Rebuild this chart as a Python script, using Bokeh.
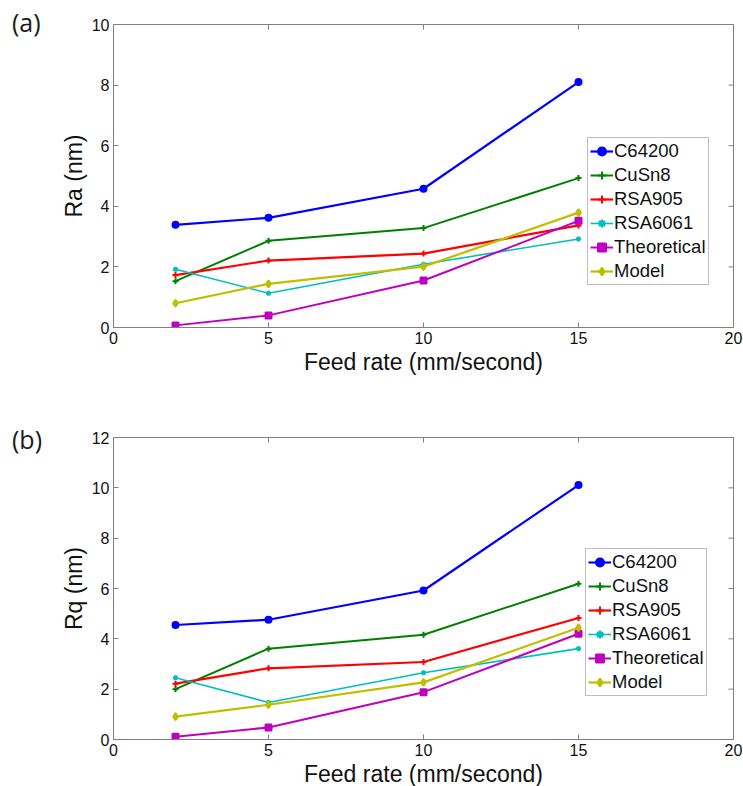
import math
from bokeh.plotting import figure
from bokeh.layouts import column
from bokeh.models import Range1d, FixedTicker, Legend, Div
from bokeh.embed import file_html
from bokeh.resources import INLINE

feed = [2, 5, 10, 15]
series_names = ["C64200", "CuSn8", "RSA905", "RSA6061", "Theoretical", "Model"]

ra_c64200 = [3.39, 3.62, 4.58, 8.10]
ra_cusn8 = [1.53, 2.86, 3.28, 4.93]
ra_rsa905 = [1.73, 2.21, 2.44, 3.37]
ra_rsa6061 = [1.92, 1.13, 2.09, 2.92]
ra_theor = [0.07, 0.40, 1.55, 3.52]
ra_model = [0.80, 1.44, 2.01, 3.79]

rq_c64200 = [4.55, 4.76, 5.92, 10.11]
rq_cusn8 = [2.00, 3.61, 4.16, 6.19]
rq_rsa905 = [2.22, 2.83, 3.08, 4.83]
rq_rsa6061 = [2.45, 1.47, 2.65, 3.61]
rq_theor = [0.11, 0.48, 1.88, 4.20]
rq_model = [0.91, 1.38, 2.27, 4.44]

x_ticks = [0, 5, 10, 15, 20]
ra_ticks = [0, 2, 4, 6, 8, 10]
rq_ticks = [0, 2, 4, 6, 8, 10, 12]

colors = ["#0000ff", "#008000", "#ff0000", "#00bfbf", "#bf00bf", "#bfbf00"]
markers = ["circle", "cross", "cross", "asterisk", "square", "diamond"]
msizes = [6, 6, 6, 5, 6, 7]
lwidths = [2.2, 2.0, 2.2, 1.6, 2.0, 2.2]

FONT = "Liberation Sans"
AXCOL = "#808080"


def style_axis(ax):
    ax.axis_line_color = AXCOL
    ax.major_tick_line_color = AXCOL
    ax.major_tick_in = 5
    ax.major_tick_out = 0
    ax.minor_tick_line_color = None
    ax.major_label_text_font = FONT
    ax.major_label_text_font_size = "16px"
    ax.major_label_text_color = "#111111"
    ax.major_label_standoff = 4
    ax.axis_label_text_font = FONT
    ax.axis_label_text_font_size = "23px"
    ax.axis_label_text_font_style = "normal"
    ax.axis_label_text_color = "#111111"
    ax.axis_label_standoff = 2


def make_panel(ys, ymax, yticks, ylabel, btop, bbot, fheight, leg_loc):
    p = figure(output_backend="svg", toolbar_location=None,
               frame_width=620, frame_height=fheight,
               min_border_left=113, min_border_right=10,
               min_border_top=btop, min_border_bottom=bbot,
               x_range=Range1d(0, 20), y_range=Range1d(0, ymax),
               background_fill_color="white", border_fill_color="white")
    p.outline_line_color = AXCOL
    p.grid.visible = False
    p.xaxis.ticker = FixedTicker(ticks=x_ticks)
    p.yaxis.ticker = FixedTicker(ticks=yticks)
    p.xaxis.axis_label = "Feed rate (mm/second)"
    p.yaxis.axis_label = ylabel
    style_axis(p.xaxis[0])
    style_axis(p.yaxis[0])

    # inward tick marks on the top and right edges of the box
    p.scatter(x_ticks, [ymax] * len(x_ticks), marker="dash", angle=math.pi / 2,
              size=10, line_color=AXCOL, line_width=1)
    p.scatter([20] * len(yticks), yticks, marker="dash",
              size=10, line_color=AXCOL, line_width=1)

    items = []
    for name, yv, c, m, ms, lw in zip(series_names, ys, colors, markers, msizes, lwidths):
        r1 = p.line(feed, yv, line_color=c, line_width=lw)
        r2 = p.scatter(feed, yv, marker=m, size=ms, line_color=c, fill_color=c, line_width=2)
        items.append((name, [r1, r2]))
    leg = Legend(items=items, location=leg_loc)
    leg.label_text_font = FONT
    leg.label_text_font_size = "18.5px"
    leg.label_text_color = "#111111"
    leg.label_height = 20
    leg.glyph_height = 20
    leg.glyph_width = 23
    leg.label_standoff = 1
    leg.spacing = 2
    leg.padding = 2
    leg.margin = 0
    leg.border_line_color = "#808080"
    leg.border_line_width = 1
    leg.background_fill_alpha = 1.0
    p.add_layout(leg, "center")
    return p


def tag_div(text, fig_h, top):
    # panel tag overlaid on the figure above it (net height zero in the column)
    h = 32
    return Div(text=text, width=50, height=h,
               margin=(-(fig_h - top), 0, fig_h - top - h, 12),
               styles={"font-family": "Open Sans", "font-size": "25px",
                       "color": "#1a1a1a", "line-height": "1.2", "z-index": "10"})


H1, H2 = 390, 396
pa = make_panel([ra_c64200, ra_cusn8, ra_rsa905, ra_rsa6061, ra_theor, ra_model],
                10, ra_ticks, "Ra (nm)", 24, 63, 303, (474, 42))
pb = make_panel([rq_c64200, rq_cusn8, rq_rsa905, rq_rsa6061, rq_theor, rq_model],
                12, rq_ticks, "Rq (nm)", 47, 47, 302, (472, 43))

layout = column(pa, tag_div("(a)", H1, 7), pb, tag_div("(b)", H2, 31), spacing=0)
open("out.html", "w").write(file_html(layout, INLINE))
